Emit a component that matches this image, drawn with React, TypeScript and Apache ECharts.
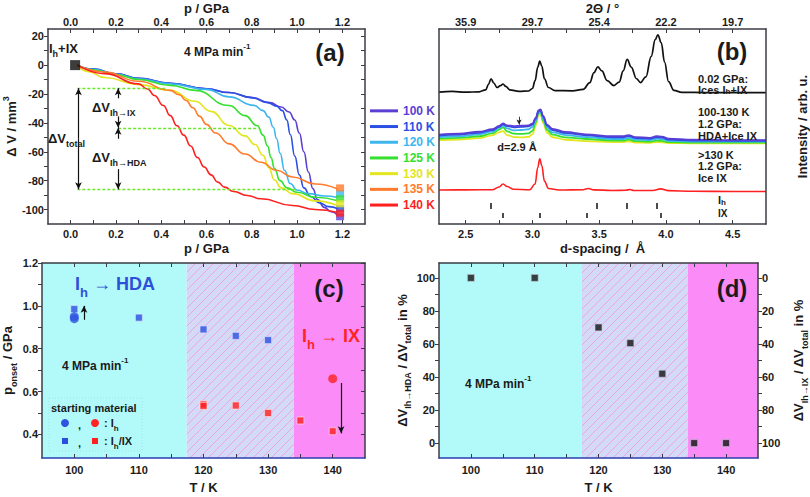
import React, { useEffect, useRef } from 'react';
import * as echarts from 'echarts';

const FONT = "'Liberation Sans', Arial, Helvetica, sans-serif";
const INK = '#1b1b1b';
const FRAME = '#3b3b44';

// ---------------- panel (a): volume change vs pressure ----------------
const tempNames = ['100 K', '110 K', '120 K', '125 K', '130 K', '135 K', '140 K'];
const tempColors = ['#5b3fd5', '#2b4fe3', '#3db6ee', '#35e02f', '#e3e51f', '#ff7b2b', '#ff1f1f'];

const curve100K = [[0.03, 0], [0.1, -2.8], [0.2, -6], [0.3, -9.2], [0.44, -12.6], [0.6, -16.4], [0.7, -19], [0.8, -22.5], [0.88, -26], [0.93, -29], [0.965, -32.5], [0.99, -38], [1.01, -47], [1.03, -60], [1.05, -74], [1.07, -85.5], [1.09, -93], [1.12, -98.5], [1.15, -101.5], [1.18, -104]];
const curve110K = [[0.03, 0], [0.1, -2.8], [0.2, -6], [0.3, -9.2], [0.44, -12.6], [0.6, -16.4], [0.7, -19], [0.8, -22.5], [0.87, -26], [0.91, -28.5], [0.935, -31.5], [0.955, -38], [0.97, -48], [0.99, -63], [1.01, -76], [1.03, -85], [1.06, -91], [1.1, -95.5], [1.14, -98], [1.18, -99.5]];
const curve120K = [[0.03, 0], [0.1, -3], [0.2, -6.3], [0.3, -9.5], [0.44, -13], [0.6, -16.8], [0.7, -22], [0.81, -27.9], [0.85, -31.5], [0.875, -36], [0.895, -43], [0.91, -51], [0.925, -61], [0.945, -73], [0.97, -82], [1.0, -86.5], [1.05, -89], [1.12, -90.6], [1.18, -91.6]];
const curve125K = [[0.03, 0], [0.1, -3.2], [0.2, -6.6], [0.3, -10], [0.44, -14], [0.55, -17.5], [0.7, -28], [0.77, -35], [0.825, -42], [0.85, -48.5], [0.87, -56], [0.885, -64], [0.9, -71.5], [0.925, -80], [0.955, -85], [1.0, -88], [1.08, -91.5], [1.18, -93.9]];
const curve130K = [[0.03, 0], [0.08, -4.5], [0.15, -8.6], [0.3, -13.5], [0.44, -17.5], [0.55, -25], [0.62, -32], [0.7, -41.8], [0.77, -49], [0.815, -55], [0.85, -62.5], [0.875, -71], [0.9, -79.5], [0.93, -85], [0.98, -89], [1.08, -94], [1.18, -97.4]];
const curve135K = [[0.03, 0], [0.15, -4.8], [0.3, -11.2], [0.44, -17.5], [0.48, -20.5], [0.51, -24.5], [0.54, -29.5], [0.57, -35.5], [0.6, -41], [0.64, -47], [0.7, -54.5], [0.77, -61.5], [0.84, -67.3], [0.91, -72.8], [0.98, -77.5], [1.08, -82.3], [1.18, -85.8]];
const curve140K = [[0.03, 0], [0.15, -5.9], [0.3, -13], [0.34, -16.5], [0.37, -21], [0.41, -28], [0.44, -35], [0.47, -42], [0.5, -48.5], [0.53, -56], [0.56, -64], [0.59, -70.5], [0.62, -76], [0.65, -81], [0.68, -84.5], [0.72, -87.5], [0.78, -90.3], [0.84, -92.5], [0.98, -97.2], [1.08, -100], [1.18, -102]];
const curvesA = [curve100K, curve110K, curve120K, curve125K, curve130K, curve135K, curve140K];

const endSquareP = 1.19;
const endSquareV = [-105, -99.5, -89, -92.5, -96, -85, -102.5];
const startSquare = [0.02, 0];

// dashed guide levels: [pStart, pEnd, V]
const guideLevels = [[0.03, 0.42, -16], [0.21, 0.83, -43.4], [0.03, 1.0, -86]];
// arrows: [p, Vfrom, Vto]
const guideArrows = [[0.035, -51, -16], [0.035, -51, -86], [0.21, -23, -16], [0.21, -35.5, -43.4], [0.21, -51, -43.4], [0.21, -72, -86]];

const pMajor = [0, 0.2, 0.4, 0.6, 0.8, 1.0, 1.2];
const pTicks = [0, 0.1, 0.2, 0.3, 0.4, 0.5, 0.6, 0.7, 0.8, 0.9, 1.0, 1.1, 1.2];
const vMajor = [-100, -80, -60, -40, -20, 0, 20];
const vTicks = [-100, -90, -80, -70, -60, -50, -40, -30, -20, -10, 0, 10, 20];

// ---------------- panel (b): diffraction patterns ----------------
const blackD = [2.3, 2.4, 2.5, 2.6, 2.65, 2.67, 2.69, 2.71, 2.735, 2.76, 2.78, 2.8, 2.83, 2.9, 2.97, 3.0, 3.02, 3.04, 3.055, 3.07, 3.09, 3.12, 3.17, 3.3, 3.38, 3.43, 3.46, 3.49, 3.52, 3.56, 3.61, 3.65, 3.68, 3.71, 3.74, 3.78, 3.81, 3.85, 3.89, 3.92, 3.94, 3.965, 3.99, 4.02, 4.06, 4.12, 4.3, 4.5, 4.75];
const blackI = [67.6, 68.0, 67.6, 67.8, 68.8, 71.5, 74.5, 72.3, 70.0, 71.0, 71.8, 70.6, 68.8, 68.0, 68.2, 69.5, 73.5, 80.5, 83.5, 81.0, 74.5, 70.0, 68.4, 68.3, 69.0, 72.5, 77.5, 80.6, 78.5, 73.5, 71.0, 72.8, 78.5, 84.4, 80.5, 74.5, 72.5, 75.5, 86.0, 94.5, 97.0, 93.0, 83.0, 73.0, 68.5, 67.5, 67.4, 67.4, 67.4];

const midD = [2.3, 2.45, 2.6, 2.7, 2.75, 2.78, 2.81, 2.86, 2.92, 2.97, 3.0, 3.025, 3.045, 3.06, 3.08, 3.11, 3.15, 3.25, 3.4, 3.6, 3.68, 3.72, 3.77, 3.88, 3.93, 3.97, 4.02, 4.2, 4.5, 4.75];
const mid100K = [45.8, 46.3, 47.3, 48.6, 50.3, 51.6, 50.6, 50.2, 50.4, 50.6, 51.5, 54.5, 58.2, 58.8, 55.5, 51.0, 48.8, 47.2, 46.0, 45.0, 45.0, 45.6, 44.6, 44.2, 45.0, 44.8, 43.8, 43.2, 43.0, 43.0];
const mid110K = [45.3, 45.8, 46.8, 48.1, 49.8, 51.1, 50.2, 49.6, 49.8, 50.1, 51.0, 54.0, 57.8, 58.5, 55.0, 50.5, 48.2, 46.6, 45.5, 44.5, 44.5, 45.1, 44.1, 43.7, 44.5, 44.3, 43.3, 42.8, 42.7, 42.7];
const mid120K = [44.6, 45.0, 46.0, 47.4, 49.3, 50.5, 49.0, 48.0, 48.2, 48.6, 49.8, 53.2, 57.2, 57.8, 54.0, 49.5, 47.0, 45.6, 44.6, 43.6, 43.6, 44.2, 43.3, 43.0, 43.7, 43.5, 42.7, 42.3, 42.2, 42.2];
const mid125K = [43.8, 44.2, 45.0, 46.5, 48.4, 49.6, 47.5, 46.3, 46.2, 46.5, 47.8, 52.0, 56.8, 57.5, 53.0, 48.2, 45.8, 44.4, 43.6, 42.8, 42.8, 43.3, 42.5, 42.2, 42.8, 42.6, 42.0, 41.8, 41.7, 41.7];
const mid130K = [43.0, 43.3, 44.0, 45.5, 47.0, 47.6, 45.6, 44.6, 44.4, 44.7, 46.0, 50.5, 56.0, 56.6, 51.8, 46.8, 44.5, 43.2, 42.5, 42.0, 42.0, 42.4, 41.8, 41.6, 42.0, 41.9, 41.5, 41.4, 41.4, 41.4];
const midCurves = [mid100K, mid110K, mid120K, mid125K, mid130K];

const redD = [2.3, 2.5, 2.7, 2.75, 2.78, 2.81, 2.86, 2.98, 3.02, 3.04, 3.055, 3.07, 3.09, 3.12, 3.2, 3.38, 3.42, 3.46, 3.6, 3.7, 3.73, 3.76, 3.9, 3.96, 4.02, 4.2, 4.5, 4.75];
const redI = [17.4, 17.5, 17.6, 19.0, 20.5, 19.2, 17.8, 17.6, 20.5, 29.0, 33.4, 30.0, 22.0, 18.2, 17.4, 17.6, 18.2, 17.5, 17.2, 17.3, 17.7, 17.2, 17.2, 18.0, 17.1, 16.8, 16.7, 16.7];

const ihReflections = [2.69, 3.485, 3.71, 3.93];
const ixReflections = [2.78, 3.053, 3.41, 3.96];
const ihTickSpan = [7.7, 10.8];
const ixTickSpan = [3.1, 5.7];
const arrowAt29 = [2.9, 55, 51];

const dMajor = [2.5, 3.0, 3.5, 4.0, 4.5];
const dTicks = [2.5, 2.75, 3.0, 3.25, 3.5, 3.75, 4.0, 4.25, 4.5];
const twoThetaLabels = ['35.9', '29.7', '25.4', '22.2', '19.7'];

// ---------------- panel (c): onset pressures ----------------
const ihBlueCircles = [[100, 0.95], [100, 0.94]];
const mixBlueSquares = [[100, 0.985], [110, 0.945], [120, 0.89], [125, 0.86], [130, 0.84]];
const ihRedCircles = [[140, 0.66]];
const mixRedSquares = [[120, 0.54], [120, 0.533], [125, 0.535], [130, 0.5], [135, 0.465], [140, 0.415]];
const onsetArrows = [[101.5, 0.935, 1.0], [141.3, 0.64, 0.405]];

const tMajor = [100, 110, 120, 130, 140];
const tTicks = [100, 105, 110, 115, 120, 125, 130, 135, 140];
const onsetMajor = [0.4, 0.6, 0.8, 1.0, 1.2];
const onsetTicks = [0.4, 0.5, 0.6, 0.7, 0.8, 0.9, 1.0, 1.1, 1.2];

// ---------------- panel (d): HDA fraction ----------------
const hdaFraction = [[100, 100], [110, 100], [120, 70], [125, 60.5], [130, 42], [135, 0], [140, 0]];
const fracMajor = [0, 20, 40, 60, 80, 100];
const fracTicks = [0, 10, 20, 30, 40, 50, 60, 70, 80, 90, 100];

const regionEdges = [95, 117.4, 134, 145];

// ---------------- styling helpers ----------------
const CYAN = '#b2fafa';
const PINK = '#fb8cf7';
const hatchSvg = "<svg xmlns='http://www.w3.org/2000/svg' width='9' height='9'><rect width='9' height='9' fill='#d4d9f6'/><path d='M-1,10 L10,-1 M-1,1 L1,-1 M8,10 L10,8' stroke='#e6a2e8' stroke-width='0.9'/></svg>";
const HATCH = { image: 'data:image/svg+xml;charset=utf-8,' + encodeURIComponent(hatchSvg), repeat: 'repeat', imageWidth: 9, imageHeight: 9 };
const regionFills = [CYAN, HATCH, PINK];

const labelFont = { fontFamily: FONT, fontWeight: 'bold', fontSize: 11, color: INK };
const nameRich = {
  sub: { fontFamily: FONT, fontWeight: 'bold', fontSize: 9, color: INK, verticalAlign: 'bottom', lineHeight: 21 },
  sup: { fontFamily: FONT, fontWeight: 'bold', fontSize: 9, color: INK, verticalAlign: 'top', lineHeight: 21 },
};

function axis(grid: number, position: string, min: number, max: number, o: any = {}) {
  return {
    type: 'value', gridIndex: grid, position, min, max, z: 4,
    splitLine: { show: false },
    axisLine: { show: true, onZero: false, lineStyle: { color: o.lineColor || FRAME, width: 1.5 } },
    axisTick: o.ticks
      ? { show: true, inside: o.inside !== false, length: o.tickLen || 4, customValues: o.ticks, lineStyle: { color: FRAME, width: 1 } }
      : { show: false },
    axisLabel: o.labels
      ? { show: true, customValues: o.labels, formatter: o.formatter, margin: o.margin ?? 4, ...labelFont }
      : { show: false },
    name: o.name,
    nameLocation: 'middle',
    nameGap: o.nameGap,
    nameTextStyle: { fontFamily: FONT, fontWeight: 'bold', fontSize: 13, color: INK, rich: nameRich },
  };
}

// single- or multi-line annotation text; sub/sup via rich tokens
function txt(x: number, y: number, text: string, size = 12, color = INK, align = 'left', opts: any = {}) {
  const sub = Math.round(size * 0.7);
  const lh = opts.subLH || Math.round(size * 1.6);
  const style: any = {
    text, fill: color, fontFamily: FONT, fontWeight: 'bold', fontSize: size, align,
    verticalAlign: opts.vAlign || 'middle',
    rich: {
      sub: { fill: color, fontFamily: FONT, fontWeight: 'bold', fontSize: sub, verticalAlign: 'bottom', lineHeight: lh },
      sup: { fill: color, fontFamily: FONT, fontWeight: 'bold', fontSize: sub, verticalAlign: 'top', lineHeight: lh },
    },
  };
  if (opts.lineHeight) style.lineHeight = opts.lineHeight;
  return { type: 'text', x, y, z: 60, silent: true, style };
}

const fix1 = (v: number) => v.toFixed(1);

function buildOption() {
  const xAxis = [
    axis(0, 'bottom', -0.1, 1.3, { ticks: pTicks, labels: pMajor, formatter: fix1, name: 'p / GPa', nameGap: 18 }),
    axis(0, 'top', -0.1, 1.3, { ticks: pTicks, labels: pMajor, formatter: fix1, name: 'p / GPa', nameGap: 14, margin: 2 }),
    axis(1, 'bottom', 2.3, 4.75, { ticks: dTicks, labels: dMajor, formatter: fix1, name: 'd-spacing /  Å', nameGap: 18 }),
    axis(1, 'top', 2.3, 4.75, {
      ticks: dTicks, labels: dMajor, margin: 2, name: '2Θ / °', nameGap: 14,
      formatter: (v: number) => twoThetaLabels[dMajor.findIndex((d) => Math.abs(d - v) < 1e-6)] || '',
    }),
    axis(2, 'bottom', 95, 145, { ticks: tTicks, labels: tMajor, formatter: String, name: 'T / K', nameGap: 23, margin: 6, lineColor: '#2b3fae' }),
    axis(2, 'top', 95, 145, { ticks: tTicks }),
    axis(3, 'bottom', 95, 145, { ticks: tTicks, labels: tMajor, formatter: String, name: 'T / K', nameGap: 23, margin: 6, lineColor: '#2b3fae' }),
    axis(3, 'top', 95, 145, { ticks: tTicks }),
  ];
  const yAxis = [
    axis(0, 'left', -110, 25, { ticks: vTicks, inside: false, labels: vMajor, formatter: String, name: 'Δ V / mm{sup|3}', nameGap: 24 }),
    axis(0, 'right', -110, 25, { ticks: vTicks }),
    axis(1, 'left', 0, 100, {}),
    axis(1, 'right', 0, 100, { name: 'Intensity / arb. u.', nameGap: 30 }),
    axis(2, 'left', 0.29, 1.2, { ticks: onsetTicks, inside: false, labels: onsetMajor, formatter: fix1, name: 'p{sub|onset} / GPa', nameGap: 24 }),
    axis(2, 'right', 0.29, 1.2, { ticks: onsetTicks }),
    axis(3, 'left', -9, 109, { ticks: fracTicks, inside: false, labels: fracMajor, formatter: String, name: 'ΔV{sub|Ih→HDA} / ΔV{sub|total} in %', nameGap: 24 }),
    axis(3, 'right', -9, 109, {
      ticks: fracTicks, inside: false, labels: fracMajor, formatter: (v: number) => String(100 - v),
      name: 'ΔV{sub|Ih→IX} / ΔV{sub|total} in %', nameGap: 30,
    }),
  ];

  const series: any[] = [];

  // (a) curves
  tempNames.forEach((n, i) => {
    series.push({
      type: 'line', name: n, xAxisIndex: 0, yAxisIndex: 0, data: curvesA[i],
      smooth: 0.5, smoothMonotone: 'x', showSymbol: false, symbol: 'none',
      lineStyle: { color: tempColors[i], width: 1.6 }, itemStyle: { color: tempColors[i] }, z: 3,
    });
  });
  series.push({
    type: 'scatter', xAxisIndex: 0, yAxisIndex: 0, symbol: 'rect', symbolSize: [8, 7], z: 5,
    data: endSquareV.map((v, i) => ({ value: [endSquareP, v], itemStyle: { color: tempColors[i] } })),
  });
  series.push({
    type: 'scatter', xAxisIndex: 0, yAxisIndex: 0, symbol: 'rect', symbolSize: 10, z: 5,
    itemStyle: { color: '#0d0d0d' }, data: [startSquare],
    markLine: {
      silent: true, symbol: ['none', 'none'], label: { show: false },
      lineStyle: { color: '#6be82a', type: [3, 2], width: 1.3 },
      data: guideLevels.map(([a, b, v]) => [{ coord: [a, v] }, { coord: [b, v] }]),
    },
  });
  series.push({
    type: 'scatter', xAxisIndex: 0, yAxisIndex: 0, data: [],
    markLine: {
      silent: true, symbol: ['none', 'arrow'], symbolSize: [5, 7], label: { show: false },
      lineStyle: { color: '#111', type: 'solid', width: 1.2 },
      data: guideArrows.map(([p, a, b]) => [{ coord: [p, a] }, { coord: [p, b] }]),
    },
  });

  // (b) patterns
  const zip = (xs: number[], ys: number[]) => xs.map((x, i) => [x, ys[i]]);
  series.push({
    type: 'line', name: '0.02 GPa', xAxisIndex: 2, yAxisIndex: 2, data: zip(blackD, blackI),
    smooth: 0.4, smoothMonotone: 'x', showSymbol: false, lineStyle: { color: '#111', width: 1.7 },
  });
  midCurves.slice().reverse().forEach((c, k) => {
    const i = midCurves.length - 1 - k;
    series.push({
      type: 'line', name: tempNames[i] + ' XRD', xAxisIndex: 2, yAxisIndex: 2, data: zip(midD, c),
      smooth: 0.4, smoothMonotone: 'x', showSymbol: false, lineStyle: { color: tempColors[i], width: 1.8 },
    });
  });
  series.push({
    type: 'line', name: '>130 K XRD', xAxisIndex: 2, yAxisIndex: 2, data: zip(redD, redI),
    smooth: 0.4, smoothMonotone: 'x', showSymbol: false, lineStyle: { color: '#ff2121', width: 1.6 },
    markLine: {
      silent: true, symbol: ['none', 'none'], label: { show: false },
      lineStyle: { color: '#111', type: 'solid', width: 1.5 },
      data: [
        ...ihReflections.map((d) => [{ coord: [d, ihTickSpan[0]] }, { coord: [d, ihTickSpan[1]] }]),
        ...ixReflections.map((d) => [{ coord: [d, ixTickSpan[0]] }, { coord: [d, ixTickSpan[1]] }]),
      ],
    },
  });
  series.push({
    type: 'scatter', xAxisIndex: 2, yAxisIndex: 2, data: [],
    markLine: {
      silent: true, symbol: ['none', 'arrow'], symbolSize: [4, 5], label: { show: false },
      lineStyle: { color: '#222', type: 'solid', width: 0.9 },
      data: [[{ coord: [arrowAt29[0], arrowAt29[1]] }, { coord: [arrowAt29[0], arrowAt29[2]] }]],
    },
  });

  // (c) onset pressures
  const areaData = regionFills.map((fill, i) => [
    { xAxis: regionEdges[i], itemStyle: { color: fill, opacity: 1 } },
    { xAxis: regionEdges[i + 1] },
  ]);
  series.push({
    type: 'scatter', xAxisIndex: 4, yAxisIndex: 4, symbol: 'rect', symbolSize: 7, z: 5,
    itemStyle: { color: '#2a4fe0', borderColor: '#dfe6ff', borderWidth: 0.8 }, data: mixBlueSquares,
    markArea: { silent: true, data: areaData },
  });
  series.push({
    type: 'scatter', xAxisIndex: 4, yAxisIndex: 4, symbol: 'circle', symbolSize: 9, z: 5,
    itemStyle: { color: '#2e54e0' }, data: ihBlueCircles,
  });
  series.push({
    type: 'scatter', xAxisIndex: 4, yAxisIndex: 4, symbol: 'rect', symbolSize: 7, z: 5,
    itemStyle: { color: '#ff2020', borderColor: '#ffe0e0', borderWidth: 0.8 }, data: mixRedSquares,
  });
  series.push({
    type: 'scatter', xAxisIndex: 4, yAxisIndex: 4, symbol: 'circle', symbolSize: 9, z: 5,
    itemStyle: { color: '#ff2222' }, data: ihRedCircles,
    markLine: {
      silent: true, symbol: ['none', 'arrow'], symbolSize: [5, 7], label: { show: false },
      lineStyle: { color: '#111', type: 'solid', width: 1.2 },
      data: onsetArrows.map(([t, a, b]) => [{ coord: [t, a] }, { coord: [t, b] }]),
    },
  });

  // (d) fraction
  series.push({
    type: 'scatter', xAxisIndex: 6, yAxisIndex: 6, symbol: 'rect', symbolSize: 7, z: 5,
    itemStyle: { color: '#111', borderColor: '#c9cde0', borderWidth: 0.8 }, data: hdaFraction,
    markArea: { silent: true, data: areaData },
  });

  const graphic = [
    // (a)
    txt(49, 48, 'I{sub|h}+IX', 13),
    txt(184, 52, '4 MPa min{sup|-1}', 12),
    txt(330, 52, '(a)', 24, INK, 'center'),
    txt(92, 107, 'ΔV{sub|Ih→IX}', 13),
    txt(48, 138, 'ΔV{sub|total}', 13),
    txt(92, 157, 'ΔV{sub|Ih→HDA}', 13),
    // (b)
    txt(732, 51, '(b)', 24, INK, 'center'),
    txt(698, 74, '0.02 GPa:\nIces I{sub|h}+IX', 11, INK, 'left', { vAlign: 'top', lineHeight: 9.5, subLH: 12 }),
    txt(698, 106, '100-130 K\n1.2 GPa:\nHDA+Ice IX', 11, INK, 'left', { vAlign: 'top', lineHeight: 12 }),
    txt(698, 149, '>130 K\n1.2 GPa:\nIce IX', 11, INK, 'left', { vAlign: 'top', lineHeight: 11.5 }),
    txt(718, 200, 'I{sub|h}', 11, INK, 'left', { subLH: 12 }),
    txt(718, 213, 'IX', 10, INK, 'left', { lineHeight: 10 }),
    txt(517, 147, 'd=2.9 Å', 11, INK, 'center'),
    // (c)
    txt(75, 284, 'I{sub|h} → HDA', 18, '#2f4fd8'),
    txt(329, 288, '(c)', 24, INK, 'center'),
    txt(302, 336, 'I{sub|h} → IX', 18, '#ff2424'),
    txt(62, 366, '4 MPa min{sup|-1}', 12),
    {
      type: 'rect', z: 55, silent: true, shape: { x: 49, y: 398, width: 93, height: 53 },
      style: { fill: 'none', stroke: '#9fdede', lineWidth: 0.8, lineDash: [1, 2] },
    },
    txt(51, 408, 'starting material', 11),
    { type: 'circle', z: 60, silent: true, shape: { cx: 65, cy: 423, r: 4 }, style: { fill: '#2e54e0' } },
    txt(78, 425, ',', 11),
    { type: 'circle', z: 60, silent: true, shape: { cx: 95, cy: 423, r: 4 }, style: { fill: '#ff2222' } },
    txt(104, 423, ': I{sub|h}', 11),
    { type: 'rect', z: 60, silent: true, shape: { x: 62, y: 438, width: 6, height: 6 }, style: { fill: '#2a4fe0' } },
    txt(78, 443, ',', 11),
    { type: 'rect', z: 60, silent: true, shape: { x: 92, y: 438, width: 6, height: 6 }, style: { fill: '#ff2020' } },
    txt(104, 441, ': I{sub|h}/IX', 11),
    // (d)
    txt(732, 288, '(d)', 24, INK, 'center'),
    txt(465, 384, '4 MPa min{sup|-1}', 12),
  ];

  return {
    animation: false,
    backgroundColor: '#ffffff',
    grid: [
      { left: 37, top: 29, width: 328, height: 195 },
      { left: 439, top: 29, width: 328, height: 195 },
      { left: 37, top: 263, width: 328, height: 195 },
      { left: 439, top: 263, width: 328, height: 195 },
    ],
    legend: {
      data: tempNames.map((n, i) => ({ name: n, textStyle: { color: tempColors[i] } })),
      orient: 'vertical', left: 370, top: 103, padding: 0, itemGap: 0,
      itemWidth: 28, itemHeight: 3, icon: 'rect', selectedMode: false,
      textStyle: { fontFamily: FONT, fontWeight: 'bold', fontSize: 12, lineHeight: 15.7 },
    },
    xAxis, yAxis, series, graphic,
  };
}

export default function App() {
  const ref = useRef<HTMLDivElement>(null);
  useEffect(() => {
    const chart = echarts.init(ref.current as HTMLDivElement, null, { renderer: 'svg' });
    chart.setOption(buildOption() as any);
    return () => chart.dispose();
  }, []);
  return (
    <div
      ref={ref}
      style={{ position: 'absolute', left: 0, top: 0, width: 810, height: 497, background: '#fff' }}
    />
  );
}
